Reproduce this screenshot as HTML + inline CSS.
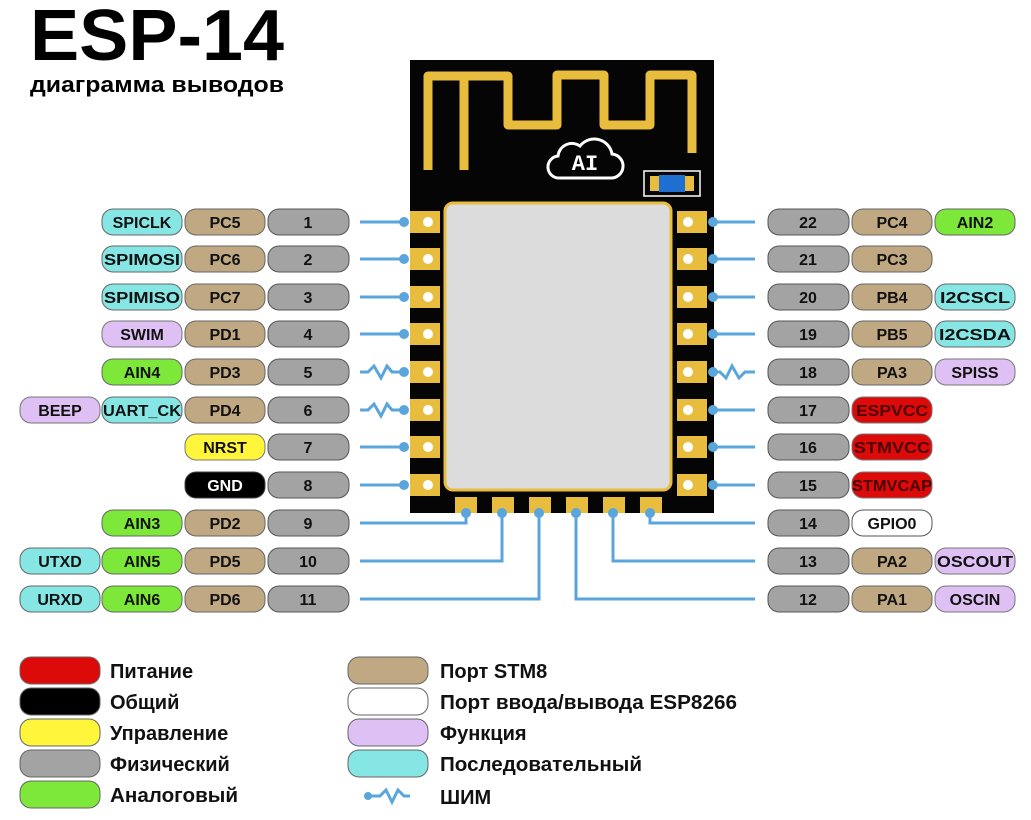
<!DOCTYPE html>
<html><head><meta charset="utf-8"><style>
body{margin:0;background:#fff;}
svg{display:block;font-family:"Liberation Sans",Arial,sans-serif;font-weight:bold;}
</style></head><body>
<svg width="1031" height="820" viewBox="0 0 1031 820" xmlns="http://www.w3.org/2000/svg">
<text x="30" y="60" font-size="72" textLength="254" lengthAdjust="spacingAndGlyphs">ESP-14</text>
<text x="30" y="92" font-size="22" textLength="254" lengthAdjust="spacingAndGlyphs">диаграмма выводов</text>

<!-- module -->
<rect x="410" y="60" width="304" height="453" fill="#050505"/>
<path d="M428 170 V76 H508 V125 H557 V75 H604 V125 H650 V75 H692 V153 M464 78 V170" fill="none" stroke="#e8bc3c" stroke-width="9" stroke-linejoin="round"/>
<g fill="none" stroke="#fff" stroke-width="3">
<path d="M560 178 H610 A12 12 0 0 0 612 154 A18 18 0 0 0 580 146 A14 14 0 0 0 558 156 A11 11 0 0 0 560 178 Z"/>
</g>
<text x="585" y="170" font-size="22" fill="#fff" text-anchor="middle" font-family="Liberation Mono,monospace">AI</text>
<rect x="644" y="171" width="56" height="25" fill="none" stroke="#fff" stroke-width="1.5"/>
<rect x="650" y="176" width="44" height="15" fill="#e8bc3c"/>
<rect x="659" y="175" width="26" height="17" fill="#1f6fd0"/>
<rect x="445" y="203" width="226" height="287" rx="8" fill="#dcdcdc" stroke="#e8bc3c" stroke-width="3"/>

<g fill="#e8bc3c">
<rect x="410" y="211" width="30" height="22"/><rect x="410" y="248" width="30" height="22"/><rect x="410" y="286" width="30" height="22"/><rect x="410" y="323" width="30" height="22"/><rect x="410" y="361" width="30" height="22"/><rect x="410" y="399" width="30" height="22"/><rect x="410" y="436" width="30" height="22"/><rect x="410" y="474" width="30" height="22"/>
<rect x="677" y="211" width="30" height="22"/><rect x="677" y="248" width="30" height="22"/><rect x="677" y="286" width="30" height="22"/><rect x="677" y="323" width="30" height="22"/><rect x="677" y="361" width="30" height="22"/><rect x="677" y="399" width="30" height="22"/><rect x="677" y="436" width="30" height="22"/><rect x="677" y="474" width="30" height="22"/>
<rect x="455" y="497" width="22" height="16"/><rect x="492" y="497" width="22" height="16"/><rect x="529" y="497" width="22" height="16"/><rect x="566" y="497" width="22" height="16"/><rect x="603" y="497" width="22" height="16"/><rect x="640" y="497" width="22" height="16"/>
</g>
<g fill="#fff">
<circle cx="428" cy="222" r="5"/><circle cx="428" cy="259" r="5"/><circle cx="428" cy="297" r="5"/><circle cx="428" cy="334" r="5"/><circle cx="428" cy="372" r="5"/><circle cx="428" cy="410" r="5"/><circle cx="428" cy="447" r="5"/><circle cx="428" cy="485" r="5"/>
<circle cx="688" cy="222" r="5"/><circle cx="688" cy="259" r="5"/><circle cx="688" cy="297" r="5"/><circle cx="688" cy="334" r="5"/><circle cx="688" cy="372" r="5"/><circle cx="688" cy="410" r="5"/><circle cx="688" cy="447" r="5"/><circle cx="688" cy="485" r="5"/>
</g>

<g stroke="#5aa5dc" stroke-width="3" fill="none">
<path d="M360 222H404M360 259H404M360 297H404M360 334H404M360 447H404M360 485H404"/>
<path d="M360 372H368L374 366L381 378L387 366L392 372H404M360 410H368L374 404L381 416L387 404L392 410H404"/>
<path d="M755 222H713M755 259H713M755 297H713M755 334H713M755 410H713M755 447H713M755 485H713"/>
<path d="M713 372H720L726 378L732 366L739 378L745 372H755"/>
<path d="M360 523H466V513M360 561H502V513M360 599H539V513"/>
<path d="M755 523H650V513M755 561H613V513M755 599H576V513"/>
</g>
<g fill="#5aa5dc">
<circle cx="404" cy="222" r="5"/><circle cx="404" cy="259" r="5"/><circle cx="404" cy="297" r="5"/><circle cx="404" cy="334" r="5"/><circle cx="404" cy="372" r="5"/><circle cx="404" cy="410" r="5"/><circle cx="404" cy="447" r="5"/><circle cx="404" cy="485" r="5"/>
<circle cx="713" cy="222" r="5"/><circle cx="713" cy="259" r="5"/><circle cx="713" cy="297" r="5"/><circle cx="713" cy="334" r="5"/><circle cx="713" cy="372" r="5"/><circle cx="713" cy="410" r="5"/><circle cx="713" cy="447" r="5"/><circle cx="713" cy="485" r="5"/>
<circle cx="466" cy="513" r="5"/><circle cx="502" cy="513" r="5"/><circle cx="539" cy="513" r="5"/><circle cx="576" cy="513" r="5"/><circle cx="613" cy="513" r="5"/><circle cx="650" cy="513" r="5"/>
</g>

<g stroke-width="1">
<g fill="#a3a3a3" stroke="#555">
<rect x="268" y="209" width="81" height="26" rx="11"/><rect x="268" y="246" width="81" height="26" rx="11"/><rect x="268" y="284" width="81" height="26" rx="11"/><rect x="268" y="321" width="81" height="26" rx="11"/><rect x="268" y="359" width="81" height="26" rx="11"/><rect x="268" y="397" width="81" height="26" rx="11"/><rect x="268" y="434" width="81" height="26" rx="11"/><rect x="268" y="472" width="81" height="26" rx="11"/><rect x="268" y="510" width="81" height="26" rx="11"/><rect x="268" y="548" width="81" height="26" rx="11"/><rect x="268" y="586" width="81" height="26" rx="11"/>
<rect x="768" y="209" width="81" height="26" rx="11"/><rect x="768" y="246" width="81" height="26" rx="11"/><rect x="768" y="284" width="81" height="26" rx="11"/><rect x="768" y="321" width="81" height="26" rx="11"/><rect x="768" y="359" width="81" height="26" rx="11"/><rect x="768" y="397" width="81" height="26" rx="11"/><rect x="768" y="434" width="81" height="26" rx="11"/><rect x="768" y="472" width="81" height="26" rx="11"/><rect x="768" y="510" width="81" height="26" rx="11"/><rect x="768" y="548" width="81" height="26" rx="11"/><rect x="768" y="586" width="81" height="26" rx="11"/>
</g>
<g fill="#bfa882" stroke="#666">
<rect x="185" y="209" width="80" height="26" rx="11"/><rect x="185" y="246" width="80" height="26" rx="11"/><rect x="185" y="284" width="80" height="26" rx="11"/><rect x="185" y="321" width="80" height="26" rx="11"/><rect x="185" y="359" width="80" height="26" rx="11"/><rect x="185" y="397" width="80" height="26" rx="11"/><rect x="185" y="510" width="80" height="26" rx="11"/><rect x="185" y="548" width="80" height="26" rx="11"/><rect x="185" y="586" width="80" height="26" rx="11"/>
<rect x="852" y="209" width="80" height="26" rx="11"/><rect x="852" y="246" width="80" height="26" rx="11"/><rect x="852" y="284" width="80" height="26" rx="11"/><rect x="852" y="321" width="80" height="26" rx="11"/><rect x="852" y="359" width="80" height="26" rx="11"/><rect x="852" y="548" width="80" height="26" rx="11"/><rect x="852" y="586" width="80" height="26" rx="11"/>
</g>
<rect x="185" y="434" width="80" height="26" rx="11" fill="#fff53a" stroke="#777"/>
<rect x="185" y="472" width="80" height="26" rx="11" fill="#000" stroke="#444"/>
<g fill="#dd0a0a" stroke="#777"><rect x="852" y="397" width="80" height="26" rx="11"/><rect x="852" y="434" width="80" height="26" rx="11"/><rect x="852" y="472" width="80" height="26" rx="11"/></g>
<rect x="852" y="510" width="80" height="26" rx="11" fill="#fff" stroke="#555"/>
<g fill="#86e6e4" stroke="#666">
<rect x="102" y="209" width="80" height="26" rx="11"/><rect x="102" y="246" width="80" height="26" rx="11"/><rect x="102" y="284" width="80" height="26" rx="11"/><rect x="102" y="397" width="80" height="26" rx="11"/>
<rect x="20" y="548" width="80" height="26" rx="11"/><rect x="20" y="586" width="80" height="26" rx="11"/>
<rect x="935" y="284" width="80" height="26" rx="11"/><rect x="935" y="321" width="80" height="26" rx="11"/>
</g>
<g fill="#dfc0f5" stroke="#777">
<rect x="102" y="321" width="80" height="26" rx="11"/><rect x="20" y="397" width="80" height="26" rx="11"/>
<rect x="935" y="359" width="80" height="26" rx="11"/><rect x="935" y="548" width="80" height="26" rx="11"/><rect x="935" y="586" width="80" height="26" rx="11"/>
</g>
<g fill="#7ee83a" stroke="#666">
<rect x="102" y="359" width="80" height="26" rx="11"/><rect x="102" y="510" width="80" height="26" rx="11"/><rect x="102" y="548" width="80" height="26" rx="11"/><rect x="102" y="586" width="80" height="26" rx="11"/>
<rect x="935" y="209" width="80" height="26" rx="11"/>
</g>
</g>

<g font-size="16" text-anchor="middle" fill="#111">
<text x="308" y="228">1</text><text x="308" y="265">2</text><text x="308" y="303">3</text><text x="308" y="340">4</text><text x="308" y="378">5</text><text x="308" y="416">6</text><text x="308" y="453">7</text><text x="308" y="491">8</text><text x="308" y="529">9</text><text x="308" y="567">10</text><text x="308" y="605">11</text>
<text x="808" y="228">22</text><text x="808" y="265">21</text><text x="808" y="303">20</text><text x="808" y="340">19</text><text x="808" y="378">18</text><text x="808" y="416">17</text><text x="808" y="453">16</text><text x="808" y="491">15</text><text x="808" y="529">14</text><text x="808" y="567">13</text><text x="808" y="605">12</text>
<text x="225" y="228">PC5</text><text x="225" y="265">PC6</text><text x="225" y="303">PC7</text><text x="225" y="340">PD1</text><text x="225" y="378">PD3</text><text x="225" y="416">PD4</text><text x="225" y="453">NRST</text><text x="225" y="491" fill="#fff">GND</text><text x="225" y="529">PD2</text><text x="225" y="567">PD5</text><text x="225" y="605">PD6</text>
<text x="892" y="228">PC4</text><text x="892" y="265">PC3</text><text x="892" y="303">PB4</text><text x="892" y="340">PB5</text><text x="892" y="378">PA3</text><text x="892" y="416" fill="#4a0000" textLength="72" lengthAdjust="spacingAndGlyphs">ESPVCC</text><text x="892" y="453" fill="#4a0000" textLength="76" lengthAdjust="spacingAndGlyphs">STMVCC</text><text x="892" y="491" fill="#4a0000" textLength="80" lengthAdjust="spacingAndGlyphs">STMVCAP</text><text x="892" y="529">GPIO0</text><text x="892" y="567">PA2</text><text x="892" y="605">PA1</text>
<text x="142" y="228">SPICLK</text><text x="142" y="265" textLength="76" lengthAdjust="spacingAndGlyphs">SPIMOSI</text><text x="142" y="303" textLength="76" lengthAdjust="spacingAndGlyphs">SPIMISO</text><text x="142" y="340">SWIM</text><text x="142" y="378">AIN4</text><text x="142" y="416" textLength="78" lengthAdjust="spacingAndGlyphs">UART_CK</text><text x="142" y="529">AIN3</text><text x="142" y="567">AIN5</text><text x="142" y="605">AIN6</text>
<text x="60" y="416">BEEP</text><text x="60" y="567">UTXD</text><text x="60" y="605">URXD</text>
<text x="975" y="228">AIN2</text><text x="975" y="303" textLength="70" lengthAdjust="spacingAndGlyphs">I2CSCL</text><text x="975" y="340" textLength="72" lengthAdjust="spacingAndGlyphs">I2CSDA</text><text x="975" y="378">SPISS</text><text x="975" y="567" textLength="76" lengthAdjust="spacingAndGlyphs">OSCOUT</text><text x="975" y="605">OSCIN</text>
</g>

<g stroke="#666" stroke-width="1">
<rect x="20" y="657" width="80" height="27" rx="11" fill="#dd0a0a"/>
<rect x="20" y="688" width="80" height="27" rx="11" fill="#000"/>
<rect x="20" y="719" width="80" height="27" rx="11" fill="#fff53a"/>
<rect x="20" y="750" width="80" height="27" rx="11" fill="#a3a3a3"/>
<rect x="20" y="781" width="80" height="27" rx="11" fill="#7ee83a"/>
<rect x="348" y="657" width="80" height="27" rx="11" fill="#bfa882"/>
<rect x="348" y="688" width="80" height="27" rx="11" fill="#fff"/>
<rect x="348" y="719" width="80" height="27" rx="11" fill="#dfc0f5"/>
<rect x="348" y="750" width="80" height="27" rx="11" fill="#86e6e4"/>
</g>
<path d="M368 796H380L386 790L392 802L398 790L404 796H410" stroke="#5aa5dc" stroke-width="3" fill="none"/>
<circle cx="368" cy="796" r="4" fill="#5aa5dc"/>
<g font-size="20" fill="#111">
<text x="110" y="678">Питание</text><text x="110" y="709">Общий</text><text x="110" y="740">Управление</text><text x="110" y="771">Физический</text><text x="110" y="802" textLength="128" lengthAdjust="spacingAndGlyphs">Аналоговый</text>
<text x="440" y="678">Порт STM8</text><text x="440" y="709" textLength="297" lengthAdjust="spacingAndGlyphs">Порт ввода/вывода ESP8266</text><text x="440" y="740">Функция</text><text x="440" y="771" textLength="202" lengthAdjust="spacingAndGlyphs">Последовательный</text><text x="440" y="804">ШИМ</text>
</g>
</svg>
</body></html>
